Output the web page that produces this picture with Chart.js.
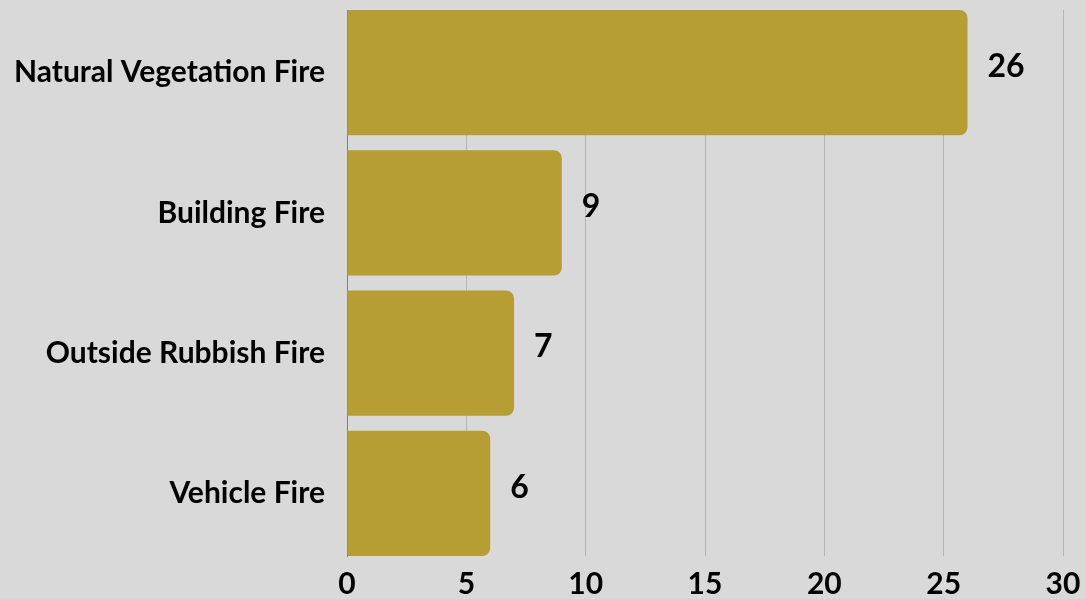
<!DOCTYPE html>
<html>
<head>
<meta charset="utf-8">
<script src="https://cdn.jsdelivr.net/npm/chart.js@4/dist/chart.umd.min.js"></script>
<style>
  html, body { margin: 0; padding: 0; background: #d9d9d9; }
  #wrap { width: 1086px; height: 599px; }
</style>
</head>
<body>
<div id="wrap"><canvas id="fireChart" width="1086" height="599"></canvas></div>
<script>
const categories = ["Natural Vegetation Fire", "Building Fire", "Outside Rubbish Fire", "Vehicle Fire"];
const incidentCounts = [26, 9, 7, 6];
const xTicks = [0, 5, 10, 15, 20, 25, 30];

const palette = {
  bar: "#b79e34",
  grid: "#b5b5b5",
  axis: "#808080",
  text: "#000000",
};

const barFill = 0.893;

// value labels just past the end of each bar
const valueLabels = {
  id: "valueLabels",
  afterDatasetsDraw(chart) {
    const { ctx } = chart;
    const meta = chart.getDatasetMeta(0);
    ctx.save();
    ctx.font = "bold 32px Lato";
    ctx.fillStyle = palette.text;
    ctx.textAlign = "left";
    ctx.textBaseline = "middle";
    meta.data.forEach((bar, i) => {
      ctx.fillText(String(incidentCounts[i]), bar.x + 20, bar.y - 6);
    });
    ctx.restore();
  },
};

new Chart(document.getElementById("fireChart"), {
  type: "bar",
  data: {
    datasets: [
      {
        data: incidentCounts.map((v, i) => ({ x: v, y: i })),
        backgroundColor: palette.bar,
        borderRadius: 8,
        borderSkipped: "start",
        barPercentage: barFill,
        categoryPercentage: 1,
      },
    ],
  },
  options: {
    indexAxis: "y",
    responsive: false,
    animation: false,
    layout: { padding: { top: 10, right: 23, bottom: 0, left: 10 } },
    plugins: { legend: { display: false }, tooltip: { enabled: false } },
    scales: {
      x: {
        type: "linear",
        min: 0,
        max: 30,
        afterBuildTicks: (axis) => {
          axis.ticks = xTicks.map((v) => ({ value: v }));
        },
        afterFit: (axis) => {
          axis.height = 43;
          axis.paddingLeft = 0;
          axis.paddingRight = 0;
        },
        grid: { color: palette.grid, lineWidth: 1, drawTicks: false },
        border: { display: false },
        ticks: {
          color: palette.text,
          font: { family: "Lato", weight: "bold", size: 30 },
          padding: 10,
          maxRotation: 0,
        },
      },
      y: {
        type: "linear",
        reverse: true,
        offset: false,
        min: -barFill / 2,
        max: categories.length - 1 + barFill / 2,
        afterBuildTicks: (axis) => {
          axis.ticks = categories.map((c, i) => ({ value: i }));
        },
        afterFit: (axis) => {
          axis.width = 337;
          axis.paddingTop = 0;
          axis.paddingBottom = 0;
        },
        grid: { display: false, drawTicks: false, offset: false },
        border: { display: true, color: palette.axis, width: 1 },
        ticks: {
          color: palette.text,
          font: { family: "Lato", weight: "bold", size: 30 },
          padding: 22,
          callback: (value) => categories[value],
        },
      },
    },
  },
  plugins: [valueLabels],
});
</script>
</body>
</html>
